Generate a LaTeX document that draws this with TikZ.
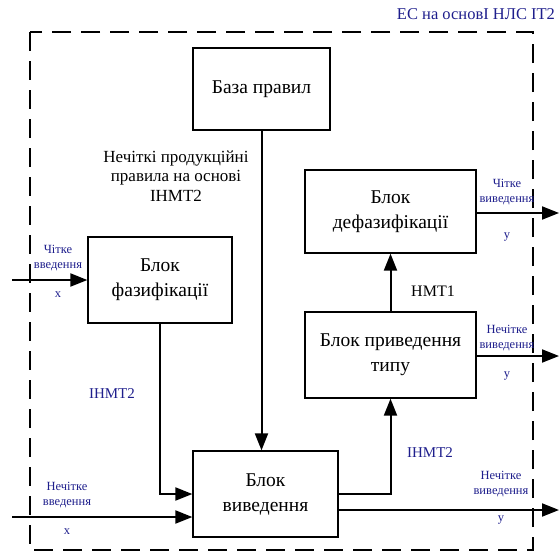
\documentclass[tikz,border=0pt]{standalone}
\usepackage{fontspec}
\setmainfont{Liberation Serif}
\usetikzlibrary{arrows.meta,calc}
\definecolor{lblue}{RGB}{30,30,140}
\begin{document}
\begin{tikzpicture}[x=1pt,y=-1pt,
  blk/.style={draw,line width=1.3pt,fill=white,align=center,font=\fontsize{19.5}{25}\selectfont,inner sep=0pt},
  conn/.style={line width=2pt,-{Triangle[length=17pt,width=13pt]}},
  small/.style={text=lblue,align=center,font=\fontsize{12.5}{14.5}\selectfont,inner sep=0pt},
  mid/.style={align=center,font=\fontsize{17}{19.5}\selectfont,inner sep=0pt}]
\useasboundingbox (0,0) rectangle (559,555);
\draw[line width=2.5pt,dash pattern=on 19pt off 10pt] (30,32) rectangle (533,550);
\node[text=lblue,font=\fontsize{16.5}{19}\selectfont,inner sep=0pt] (title) at (476,14) {ЕС на основІ НЛС ІТ2};

\node[blk,minimum width=137pt,minimum height=82pt] (baza) at (261.5,89) {База правил};
\node[blk,minimum width=144pt,minimum height=86pt] (fazi) at (160,280) {Блок\\фазифікації};
\node[blk,minimum width=171pt,minimum height=83pt] (defa) at (390.5,211.5) {Блок\\дефазифікації};
\node[blk,minimum width=171pt,minimum height=86pt] (priv) at (390.5,355) {Блок приведення\\типу};
\node[blk,minimum width=145pt,minimum height=86pt] (vyv) at (265.5,494) {Блок\\виведення};

\node[mid] (rules) at (176,176) {Нечіткі продукційні\\правила на основі\\ІНМТ2};
\node[mid,font=\fontsize{16}{19}\selectfont] (nmt1) at (433,291) {НМТ1};
\node[mid,text=lblue,font=\fontsize{15}{19}\selectfont] (inmt2a) at (112,394) {ІНМТ2};
\node[mid,text=lblue,font=\fontsize{15}{19}\selectfont] (inmt2b) at (430,453) {ІНМТ2};

\coordinate (in1) at (12,280);
\coordinate (in2) at (12,517);
\coordinate (out1) at (559,213);
\coordinate (out2) at (559,356);
\coordinate (out3) at (559,510);

\draw[conn] (baza.south) -- (baza.south |- vyv.north);
\draw[conn] (fazi.south) |- (vyv.west);
\draw[conn] (in1) -- (fazi.west);
\draw[conn] (in2) -- (in2 -| vyv.west);
\draw[conn] (vyv.east) -| (priv.south);
\draw[conn] (priv.north) -- (defa.south);
\draw[conn] (defa.east |- out1) -- (out1);
\draw[conn] (priv.east |- out2) -- (out2);
\draw[conn] (vyv.east |- out3) -- (out3);

\node[small] (l1) at (58,258) {Чітке\\введення};
\node[small] (l1x) at (58,295) {x};
\node[small] (l2) at (67,495) {Нечітке\\введення};
\node[small] (l2x) at (67,532) {x};
\node[small] (r1) at (507,192) {Чітке\\виведення};
\node[small] (r1y) at (507,237) {y};
\node[small] (r2) at (507,338) {Нечітке\\виведення};
\node[small] (r2y) at (507,376) {y};
\node[small] (r3) at (501,484) {Нечітке\\виведення};
\node[small] (r3y) at (501,520) {y};
\end{tikzpicture}
\end{document}
